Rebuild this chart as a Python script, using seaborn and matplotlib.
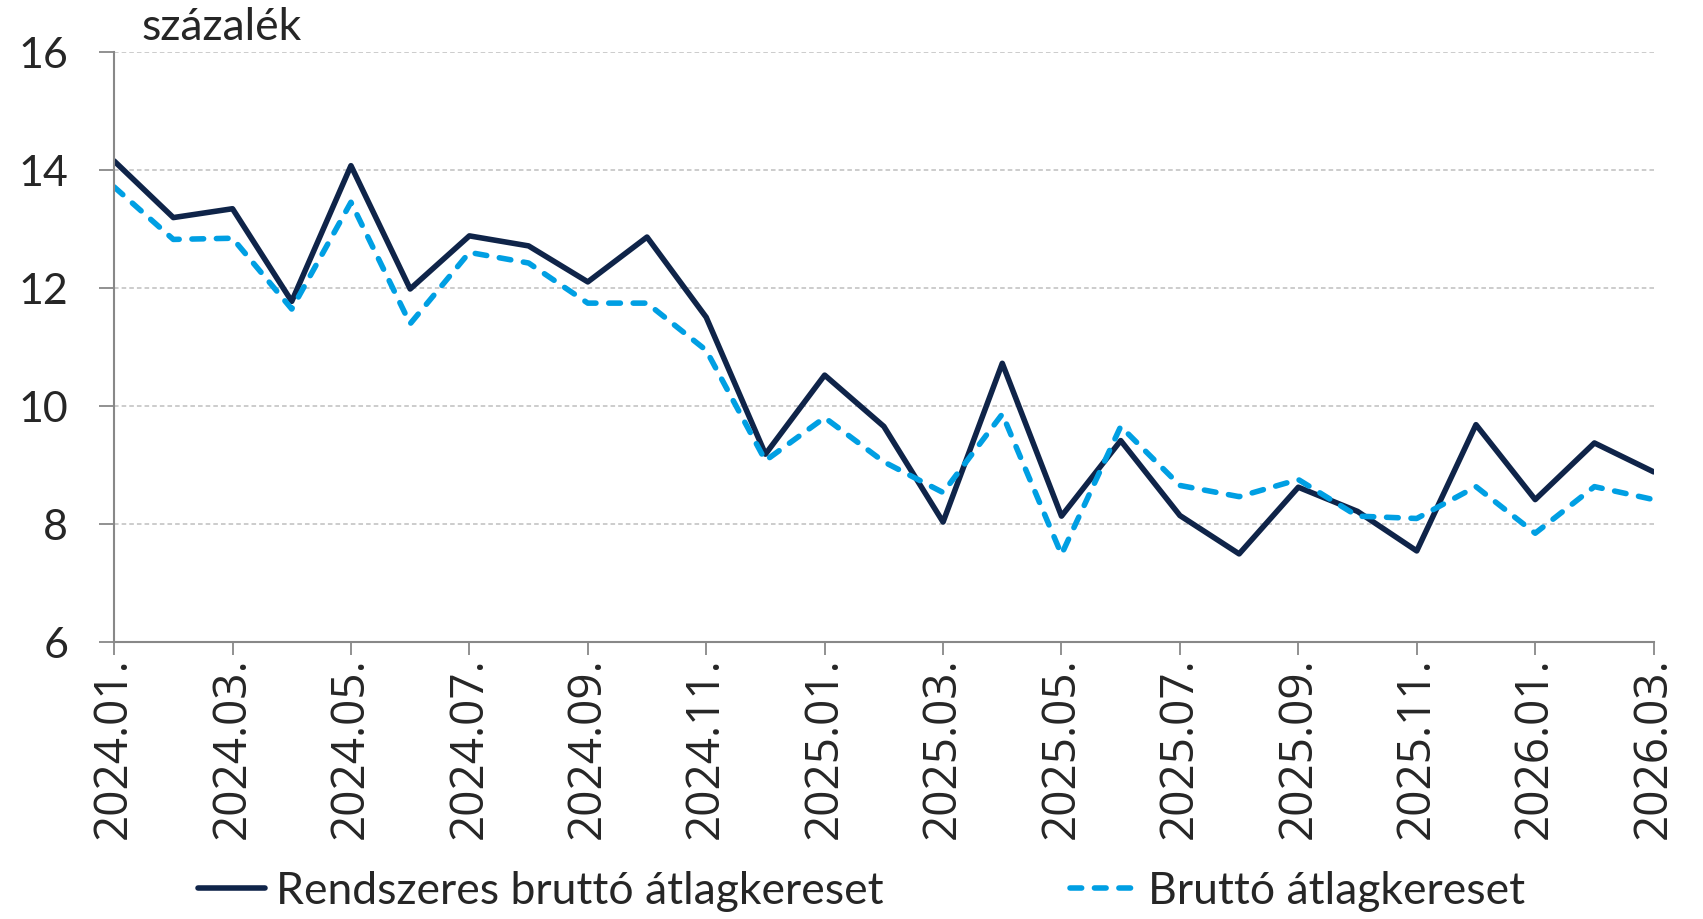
import seaborn as sns
import matplotlib.pyplot as plt
import pandas as pd

# DATA
months = ['2024.01.', '2024.02.', '2024.03.', '2024.04.', '2024.05.', '2024.06.',
          '2024.07.', '2024.08.', '2024.09.', '2024.10.', '2024.11.', '2024.12.',
          '2025.01.', '2025.02.', '2025.03.', '2025.04.', '2025.05.', '2025.06.',
          '2025.07.', '2025.08.', '2025.09.', '2025.10.', '2025.11.', '2025.12.',
          '2026.01.', '2026.02.', '2026.03.']
rendszeres = [14.16, 13.20, 13.35, 11.78, 14.08, 11.99, 12.89, 12.72, 12.11, 12.87,
              11.51, 9.19, 10.53, 9.66, 8.04, 10.73, 8.14, 9.42, 8.15, 7.50,
              8.63, 8.22, 7.55, 9.69, 8.42, 9.38, 8.89]
brutto = [13.72, 12.83, 12.85, 11.65, 13.46, 11.40, 12.61, 12.43, 11.75, 11.75,
          10.95, 9.08, 9.81, 9.06, 8.54, 9.87, 7.49, 9.66, 8.66, 8.47,
          8.76, 8.14, 8.10, 8.64, 7.85, 8.64, 8.42]

df = pd.DataFrame({'idx': range(len(months)), 'month': months,
                   'Rendszeres bruttó átlagkereset': rendszeres,
                   'Bruttó átlagkereset': brutto})

sns.set_theme(style="white")
plt.rcParams['font.family'] = ['Lato', 'DejaVu Sans']

fig = plt.figure(figsize=(17.03, 9.19), dpi=100)
ax = fig.add_axes([0.067, 0.301, 0.904, 0.642])

# LINES
sns.lineplot(data=df, x='idx', y='Rendszeres bruttó átlagkereset', ax=ax,
             color='#0f2449', linewidth=4.0, label='Rendszeres bruttó átlagkereset')
sns.lineplot(data=df, x='idx', y='Bruttó átlagkereset', ax=ax,
             color='#009fe3', linewidth=4.0, label='Bruttó átlagkereset')
ax.lines[1].set_dashes((2.1, 2.3))
ax.lines[1].set_dash_capstyle('round')

# AXES
ax.set_xlim(0, len(months) - 1)
ax.set_ylim(6, 16)
ax.set_yticks([6, 8, 10, 12, 14, 16])
ax.set_xticks(df['idx'][::2])
ax.set_xticklabels(df['month'][::2], rotation=90, fontsize=33,
                   family=['Open Sans', 'DejaVu Sans'])
ax.tick_params(axis='y', labelsize=31, length=11, width=1.3, color='#888888',
               pad=22, left=True)
ax.tick_params(axis='x', length=9, width=1.3, color='#888888', pad=2, bottom=True)
ax.set_xlabel('')
ax.set_ylabel('')

for g in [8, 10, 12, 14, 16]:
    ax.axhline(g, color='#bfbfbf', linestyle=(0, (3, 2)), linewidth=1.1, zorder=0)

for s in ['top', 'right']:
    ax.spines[s].set_visible(False)
for s in ['left', 'bottom']:
    ax.spines[s].set_color('#888888')
    ax.spines[s].set_linewidth(1.5)

ax.text(0.0175, 1.042, 'százalék', transform=ax.transAxes, fontsize=32,
        va='center', ha='left')

# LEGEND
ax.get_legend().remove()
handles, labels = ax.get_legend_handles_labels()
fig.legend(handles, labels, loc='center', bbox_to_anchor=(0.506, 0.03), ncol=2,
           frameon=False, fontsize=32, handlelength=1.5, handletextpad=0.25,
           columnspacing=4.2)

fig.savefig('out.png', dpi=100)
